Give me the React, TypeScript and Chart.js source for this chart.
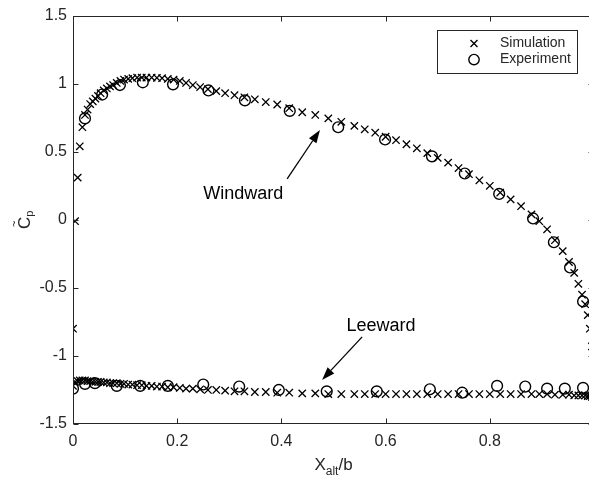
import React, { useEffect, useRef } from "react";
import { Chart, registerables } from "chart.js";

Chart.register(...registerables);

// ---- Data ----
const xTickValues = [0, 0.2, 0.4, 0.6, 0.8, 1];
const xTickLabels = ["0", "0.2", "0.4", "0.6", "0.8", "1"];
const yTickValues = [-1.5, -1, -0.5, 0, 0.5, 1, 1.5];
const yTickLabels = ["-1.5", "-1", "-0.5", "0", "0.5", "1", "1.5"];

// Simulation stations (x/b) shared by both surfaces
const simX = [
  0.0, 0.004, 0.009, 0.013, 0.018, 0.023, 0.028, 0.033, 0.038, 0.043, 0.048, 0.053,
  0.059, 0.065, 0.071, 0.077, 0.084, 0.091, 0.098, 0.106, 0.114, 0.123, 0.132, 0.141,
  0.151, 0.161, 0.171, 0.182, 0.193, 0.205, 0.217, 0.23, 0.244, 0.259, 0.275, 0.292,
  0.31, 0.329, 0.349, 0.37, 0.392, 0.415, 0.44, 0.465, 0.49, 0.515, 0.54, 0.56, 0.58,
  0.6, 0.62, 0.64, 0.66, 0.68, 0.7, 0.72, 0.74, 0.76, 0.78, 0.8, 0.82, 0.84, 0.86,
  0.88, 0.895, 0.91, 0.925, 0.94, 0.952, 0.962, 0.97, 0.977, 0.983, 0.988, 0.992,
  0.996, 1.0,
];
const simWindward = [
  -0.8, -0.01, 0.31, 0.54, 0.68, 0.77, 0.81, 0.85, 0.87, 0.89, 0.91, 0.93,
  0.95, 0.965, 0.98, 0.99, 1.005, 1.02, 1.03, 1.035, 1.04, 1.045, 1.045, 1.045,
  1.045, 1.043, 1.04, 1.035, 1.03, 1.02, 1.005, 0.99, 0.975, 0.96, 0.945, 0.93,
  0.915, 0.9, 0.885, 0.865, 0.847, 0.82, 0.79, 0.77, 0.745, 0.72, 0.69, 0.665, 0.64,
  0.61, 0.585, 0.555, 0.525, 0.49, 0.455, 0.42, 0.38, 0.335, 0.29, 0.25, 0.2, 0.15, 0.1,
  0.04, -0.01, -0.07, -0.15, -0.23, -0.31, -0.39, -0.47, -0.55, -0.62, -0.7, -0.8,
  -0.93, -1.1,
];
const simLeeward = [
  -1.22, -1.19, -1.185, -1.18, -1.18, -1.18, -1.185, -1.185, -1.19, -1.19, -1.19, -1.19,
  -1.195, -1.195, -1.2, -1.2, -1.2, -1.205, -1.205, -1.21, -1.21, -1.215, -1.215, -1.22,
  -1.22, -1.225, -1.225, -1.23, -1.23, -1.235, -1.24, -1.24, -1.245, -1.25, -1.25, -1.255,
  -1.26, -1.26, -1.265, -1.265, -1.27, -1.27, -1.275, -1.275, -1.28, -1.28, -1.28, -1.28, -1.28,
  -1.28, -1.28, -1.28, -1.28, -1.28, -1.28, -1.28, -1.28, -1.28, -1.28, -1.28, -1.28, -1.28, -1.28,
  -1.28, -1.28, -1.28, -1.285, -1.285, -1.285, -1.29, -1.29, -1.29, -1.29, -1.295, -1.295,
  -1.3, -1.3,
];

const expWindX = [0.023, 0.056, 0.09, 0.134, 0.192, 0.26, 0.33, 0.416, 0.509, 0.599, 0.689, 0.752, 0.818, 0.883, 0.923, 0.954, 0.979];
const expWindward = [0.745, 0.92, 0.99, 1.01, 0.995, 0.95, 0.877, 0.8, 0.68, 0.59, 0.466, 0.34, 0.19, 0.01, -0.165, -0.35, -0.6];
const expLeeX = [0.0, 0.023, 0.042, 0.084, 0.129, 0.182, 0.25, 0.319, 0.395, 0.487, 0.583, 0.685, 0.747, 0.814, 0.868, 0.91, 0.944, 0.979];
const expLeeward = [-1.24, -1.205, -1.2, -1.22, -1.22, -1.22, -1.21, -1.225, -1.25, -1.26, -1.26, -1.245, -1.27, -1.22, -1.225, -1.24, -1.24, -1.235];

const legendLabels = ["Simulation", "Experiment"];

// Annotations (data coordinates)
const annotations = [
  { text: "Windward", textX: 0.25, textY: 0.15, tailX: 0.411, tailY: 0.3, tipX: 0.474, tipY: 0.66 },
  { text: "Leeward", textX: 0.525, textY: -0.82, tailX: 0.555, tailY: -0.86, tipX: 0.478, tipY: -1.176 },
];

// ---- Styles ----
const FONT = "'Liberation Sans', Arial, Helvetica, sans-serif";
const AXIS_COLOR = "#262626";
const TICK_LEN = 5;

const toPoints = (xs: number[], ys: number[]) => xs.map((x, i) => ({ x, y: ys[i] }));

const boxPlugin = {
  id: "boxAxes",
  afterDraw(chart: any) {
    const { ctx, chartArea: a, scales } = chart;
    const xs = scales.x;
    const ys = scales.y;
    ctx.save();
    ctx.strokeStyle = AXIS_COLOR;
    ctx.lineWidth = 1;
    const L = Math.round(a.left) + 0.5;
    const R = Math.round(a.right) - 0.5;
    const T = Math.round(a.top) + 0.5;
    const B = Math.round(a.bottom) - 0.5;
    ctx.strokeRect(L, T, R - L, B - T);
    ctx.beginPath();
    for (const v of xTickValues) {
      const px = Math.round(xs.getPixelForValue(v)) + 0.5;
      ctx.moveTo(px, B);
      ctx.lineTo(px, B - TICK_LEN);
      ctx.moveTo(px, T);
      ctx.lineTo(px, T + TICK_LEN);
    }
    for (const v of yTickValues) {
      const py = Math.round(ys.getPixelForValue(v)) + 0.5;
      ctx.moveTo(L, py);
      ctx.lineTo(L + TICK_LEN, py);
      ctx.moveTo(R, py);
      ctx.lineTo(R - TICK_LEN, py);
    }
    ctx.stroke();

    // Axis titles
    ctx.fillStyle = AXIS_COLOR;
    ctx.textBaseline = "alphabetic";
    ctx.textAlign = "left";
    // X_alt/b
    const cx = (a.left + a.right) / 2;
    const base = 470;
    ctx.font = `17px ${FONT}`;
    const wX = ctx.measureText("X").width;
    const wB = ctx.measureText("/b").width;
    ctx.font = `12px ${FONT}`;
    const wAlt = ctx.measureText("alt").width;
    const total = wX + wAlt + wB;
    const x0 = cx - total / 2;
    ctx.font = `17px ${FONT}`;
    ctx.fillText("X", x0, base);
    ctx.font = `12px ${FONT}`;
    ctx.fillText("alt", x0 + wX, base + 5);
    ctx.font = `17px ${FONT}`;
    ctx.fillText("/b", x0 + wX + wAlt, base);

    // Y title: C~ with subscript p, rotated
    ctx.save();
    ctx.translate(30, 229);
    ctx.rotate(-Math.PI / 2);
    ctx.font = `17px ${FONT}`;
    ctx.fillText("C", 0, 0);
    const wC = ctx.measureText("C").width;
    ctx.font = `11px ${FONT}`;
    ctx.fillText("~", 2, -12);
    ctx.fillText("p", wC, 3);
    ctx.restore();

    // Annotations
    ctx.font = `18px ${FONT}`;
    ctx.fillStyle = "#000";
    ctx.strokeStyle = "#000";
    for (const an of annotations) {
      ctx.fillText(an.text, xs.getPixelForValue(an.textX), ys.getPixelForValue(an.textY));
      const x1 = xs.getPixelForValue(an.tailX);
      const y1 = ys.getPixelForValue(an.tailY);
      const x2 = xs.getPixelForValue(an.tipX);
      const y2 = ys.getPixelForValue(an.tipY);
      const ang = Math.atan2(y2 - y1, x2 - x1);
      const hl = 13;
      const hw = 4.5;
      const bx = x2 - hl * Math.cos(ang);
      const by = y2 - hl * Math.sin(ang);
      ctx.lineWidth = 1.3;
      ctx.beginPath();
      ctx.moveTo(x1, y1);
      ctx.lineTo(bx, by);
      ctx.stroke();
      ctx.beginPath();
      ctx.moveTo(x2, y2);
      ctx.lineTo(bx + hw * Math.sin(ang), by - hw * Math.cos(ang));
      ctx.lineTo(bx - hw * Math.sin(ang), by + hw * Math.cos(ang));
      ctx.closePath();
      ctx.fill();
    }

    // Legend box
    const lx = a.right - 157;
    const ly = a.top + 14;
    const lw = 140;
    const lh = 43;
    ctx.fillStyle = "#fff";
    ctx.fillRect(Math.round(lx) + 0.5, Math.round(ly) + 0.5, lw, lh);
    ctx.strokeStyle = AXIS_COLOR;
    ctx.lineWidth = 1;
    ctx.strokeRect(Math.round(lx) + 0.5, Math.round(ly) + 0.5, lw, lh);
    const mx = lx + 37;
    const my1 = ly + 14;
    const my2 = ly + 30;
    ctx.strokeStyle = "#000";
    ctx.lineWidth = 1.4;
    ctx.beginPath();
    ctx.moveTo(mx - 3.5, my1 - 3.5);
    ctx.lineTo(mx + 3.5, my1 + 3.5);
    ctx.moveTo(mx + 3.5, my1 - 3.5);
    ctx.lineTo(mx - 3.5, my1 + 3.5);
    ctx.stroke();
    ctx.beginPath();
    ctx.arc(mx, my2, 5.2, 0, Math.PI * 2);
    ctx.stroke();
    ctx.fillStyle = AXIS_COLOR;
    ctx.font = `14px ${FONT}`;
    ctx.textBaseline = "middle";
    ctx.fillText(legendLabels[0], lx + 63, my1);
    ctx.fillText(legendLabels[1], lx + 63, my2);
    ctx.restore();
  },
};

export default function App() {
  const ref = useRef<HTMLCanvasElement | null>(null);
  useEffect(() => {
    if (!ref.current) return;
    const crossStyle = {
      showLine: false,
      pointStyle: "crossRot",
      pointRadius: 5.2,
      pointBorderWidth: 1.3,
      pointBorderColor: "#000",
      pointBackgroundColor: "#000",
    };
    const circleStyle = {
      showLine: false,
      pointStyle: "circle",
      pointRadius: 5.4,
      pointBorderWidth: 1.4,
      pointBorderColor: "#000",
      pointBackgroundColor: "rgba(0,0,0,0)",
    };
    const chart = new Chart(ref.current, {
      type: "scatter",
      data: {
        datasets: [
          { label: legendLabels[0], data: toPoints(simX, simWindward), ...crossStyle } as any,
          { label: legendLabels[0], data: toPoints(simX, simLeeward), ...crossStyle } as any,
          { label: legendLabels[1], data: toPoints(expWindX, expWindward), ...circleStyle } as any,
          { label: legendLabels[1], data: toPoints(expLeeX, expLeeward), ...circleStyle } as any,
        ],
      },
      options: {
        animation: false,
        responsive: false,
        devicePixelRatio: 1,
        layout: { padding: { top: 14, right: 26, left: 0, bottom: 0 } },
        plugins: { legend: { display: false }, tooltip: { enabled: false } },
        scales: {
          x: {
            type: "linear",
            min: 0,
            max: 1,
            afterBuildTicks: (s: any) => {
              s.ticks = xTickValues.map((v) => ({ value: v }));
            },
            afterFit: (s: any) => {
              s.height = 57;
            },
            grid: { display: false, drawTicks: false },
            border: { display: false },
            ticks: {
              autoSkip: false,
              maxRotation: 0,
              padding: 8,
              color: AXIS_COLOR,
              font: { family: FONT, size: 16 },
              callback: (v: any) => {
                const i = xTickValues.findIndex((t) => Math.abs(t - Number(v)) < 1e-6);
                return i >= 0 ? xTickLabels[i] : "";
              },
            },
          },
          y: {
            type: "linear",
            min: -1.5,
            max: 1.5,
            afterBuildTicks: (s: any) => {
              s.ticks = yTickValues.map((v) => ({ value: v }));
            },
            afterFit: (s: any) => {
              s.width = 73;
            },
            grid: { display: false, drawTicks: false },
            border: { display: false },
            ticks: {
              autoSkip: false,
              padding: 6,
              color: AXIS_COLOR,
              font: { family: FONT, size: 16 },
              callback: (v: any) => {
                const i = yTickValues.findIndex((t) => Math.abs(t - Number(v)) < 1e-6);
                return i >= 0 ? yTickLabels[i] : "";
              },
            },
          },
        },
      },
      plugins: [boxPlugin as any],
    });
    return () => chart.destroy();
  }, []);

  return (
    <div
      style={{
        position: "fixed",
        left: 0,
        top: 0,
        width: 589,
        height: 481,
        overflow: "hidden",
        background: "#fff",
      }}
    >
      <canvas ref={ref} width={620} height={481} style={{ display: "block", width: 620, height: 481 }} />
    </div>
  );
}
